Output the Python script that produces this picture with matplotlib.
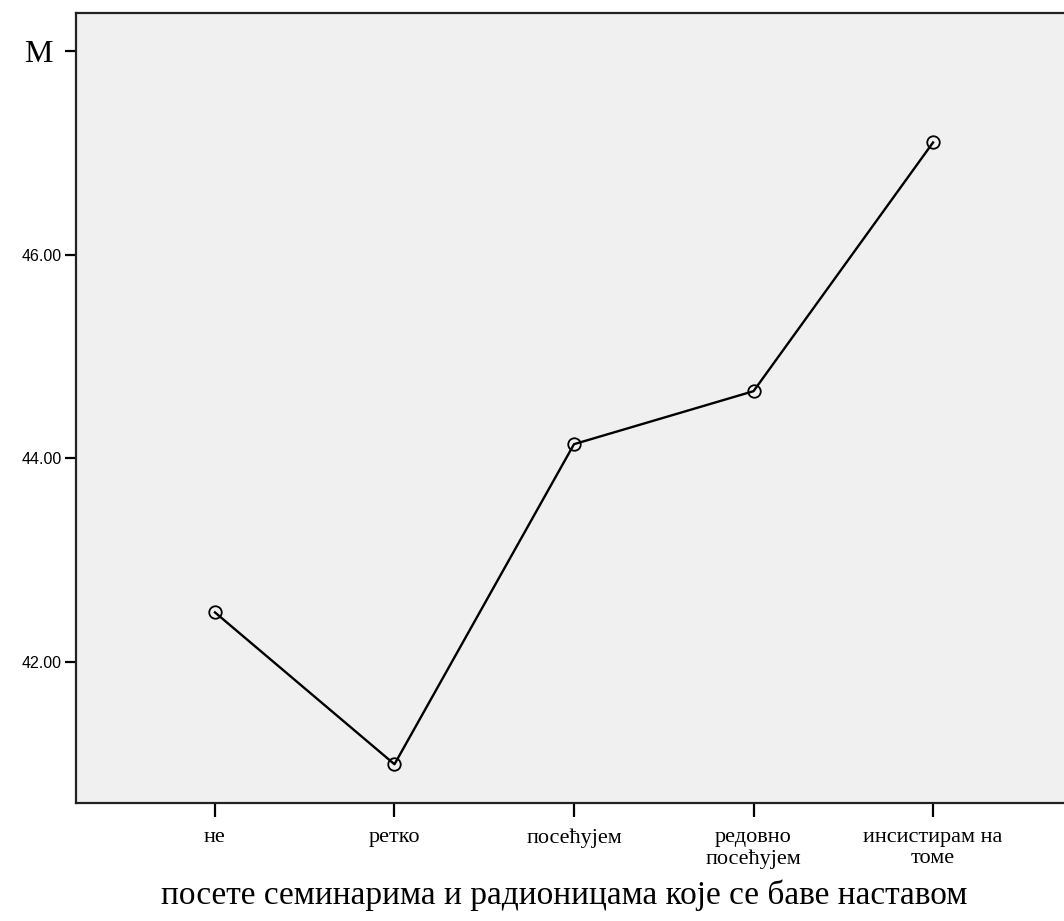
import matplotlib
matplotlib.use("Agg")
import matplotlib.pyplot as plt

categories = ["не", "ретко", "посећујем", "редовно\nпосећујем", "инсистирам на\nтоме"]
means = [42.49, 41.00, 44.14, 44.66, 47.10]
ytick_values = [42, 44, 46, 48]
ytick_labels = ["42.00", "44.00", "46.00", "M"]
xlabel = "посете семинарима и радионицама које се баве наставом"

fig = plt.figure(figsize=(10.64, 9.21), dpi=100)
ax = fig.add_axes([76/1064, 1 - 803/921, (1072-76)/1064, (803-13)/921])
ax.set_facecolor("#f0f0f0")

x = list(range(len(categories)))
ax.plot(x, means, color="black", linewidth=1.7, marker="o", markersize=9,
        markerfacecolor="none", markeredgecolor="black", markeredgewidth=1.3)

ax.set_xlim(-0.774, 4.774)
ax.set_ylim(40.62, 48.37)

for s in ax.spines.values():
    s.set_linewidth(1.6)
    s.set_color("#222222")

ax.set_xticks(x)
ax.set_xticklabels(categories, fontfamily="Liberation Serif", fontsize=16, linespacing=1.15)
ax.set_yticks(ytick_values)
ax.set_yticklabels(ytick_labels, fontfamily="Liberation Sans", fontsize=11.5)
ax.tick_params(axis="x", direction="out", length=10, width=1.6, pad=8)
ax.tick_params(axis="y", direction="out", length=8, width=1.6, pad=2)
mlab = ax.get_yticklabels()[-1]
mlab.set_fontfamily("Liberation Serif")
mlab.set_fontsize(23)
mlab.set_x(-0.01)

ax.set_xlabel(xlabel, fontfamily="Liberation Serif", fontsize=24)
ax.xaxis.set_label_coords(0.49, -0.097)

fig.savefig("out.png", dpi=100)
